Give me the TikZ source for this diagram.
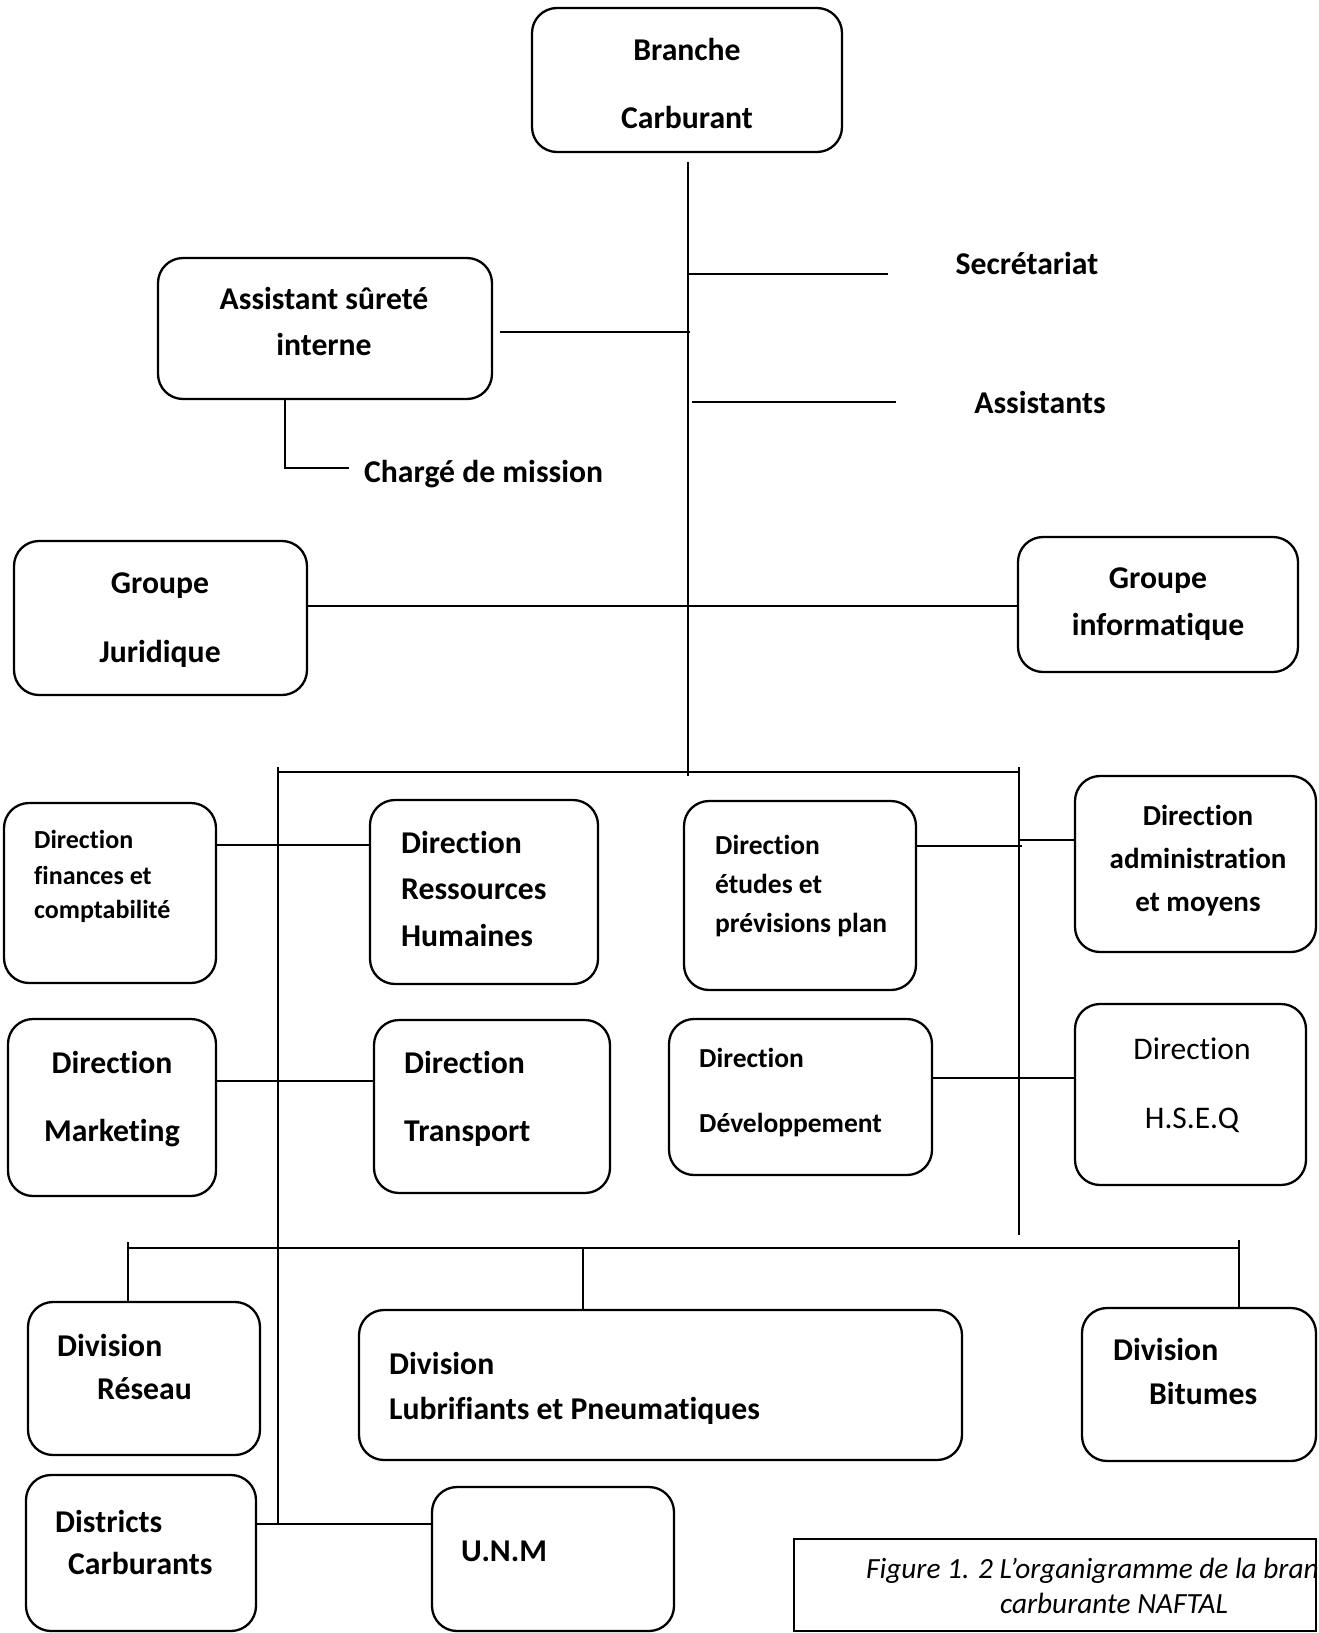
\documentclass[tikz,border=0pt]{standalone}
\usepackage{fontspec}
\setmainfont{Carlito}[RawFeature={-liga}]
\begin{document}
\begin{tikzpicture}[x=1pt,y=-1pt,
  box/.style={draw, line width=2.3pt, rounded corners=25pt, inner sep=0pt, outer sep=0pt},
  capbox/.style={draw, line width=2.2pt, inner sep=0pt, outer sep=0pt},
  conn/.style={line width=1.3pt},
  lbl/.style={inner sep=0pt, font=\bfseries\fontsize{31.7}{38}\selectfont},
  lbls/.style={inner sep=0pt, font=\bfseries\fontsize{26}{31}\selectfont},
  lblm/.style={inner sep=0pt, font=\bfseries\fontsize{27.5}{33}\selectfont},
  lbla/.style={inner sep=0pt, font=\bfseries\fontsize{29}{35}\selectfont},
  lblr/.style={inner sep=0pt, font=\fontsize{31.5}{38}\selectfont},
  lblc/.style={inner sep=0pt, font=\itshape\fontsize{29.3}{35}\selectfont},
]
\useasboundingbox[fill=white] (0,0) rectangle (1318,1633);
\newcommand\rbox[6][box]{\node[#1, minimum width={(#5-#3)*1pt}, minimum height={(#6-#4)*1pt}] (#2) at ({(#3+#5)/2},{(#4+#6)/2}) {};}

% boxes
\rbox{branche}{532}{8}{842}{152}
\rbox{asst}{158}{258}{492}{399}
\rbox{jur}{14}{541}{307}{695}
\rbox{info}{1018}{537}{1298}{672}
\rbox{fin}{4}{803}{216}{983}
\rbox{rh}{370}{800}{598}{984}
\rbox{etu}{684}{801}{916}{990}
\rbox{adm}{1075}{776}{1316}{952}
\rbox{mkt}{8}{1019}{216}{1196}
\rbox{trn}{374}{1020}{610}{1193}
\rbox{dev}{669}{1019}{932}{1175}
\rbox{hseq}{1075}{1004}{1306}{1185}
\rbox{res}{28}{1302}{260}{1455}
\rbox{lub}{359}{1310}{962}{1460}
\rbox{bit}{1082}{1308}{1316}{1461}
\rbox{dis}{26}{1475}{256}{1631}
\rbox{unm}{432}{1487}{674}{1631}
\rbox[capbox]{cap}{794}{1539}{1316}{1631}

% texts
\node[lbl, anchor=base] (tbr1) at (687,60) {Branche};
\node[lbl, anchor=base] (tbr2) at (687,128) {Carburant};
\node[lbl, anchor=base] (tsec) at (1027,274) {Secrétariat};
\node[lbl, anchor=base] (tass) at (1040,413) {Assistants};
\node[lbl, anchor=base] (tas1) at (324,309) {Assistant sûreté};
\node[lbl, anchor=base] (tas2) at (324,355) {interne};
\node[lbl, anchor=base west] (tcm) at (364,482) {Chargé de mission};
\node[lbl, anchor=base] (tj1) at (160,593) {Groupe};
\node[lbl, anchor=base] (tj2) at (160,662) {Juridique};
\node[lbl, anchor=base] (ti1) at (1158,588) {Groupe};
\node[lbl, anchor=base] (ti2) at (1158,635) {informatique};
\node[lbls, anchor=base west] (tf1) at (34,848) {Direction};
\node[lbls, anchor=base west] (tf2) at (34,884) {finances et};
\node[lbls, anchor=base west] (tf3) at (34,918) {comptabilité};
\node[lbl, anchor=base west] (tr1) at (401,853) {Direction};
\node[lbl, anchor=base west] (tr2) at (401,899) {Ressources};
\node[lbl, anchor=base west] (tr3) at (401,946) {Humaines};
\node[lblm, anchor=base west] (te1) at (715,854) {Direction};
\node[lblm, anchor=base west] (te2) at (715,893) {études et};
\node[lblm, anchor=base west] (te3) at (715,932) {prévisions plan};
\node[lbla, anchor=base] (ta1) at (1198,825) {Direction};
\node[lbla, anchor=base] (ta2) at (1198,868) {administration};
\node[lbla, anchor=base] (ta3) at (1198,911) {et moyens};
\node[lbl, anchor=base] (tm1) at (112,1073) {Direction};
\node[lbl, anchor=base] (tm2) at (112,1141) {Marketing};
\node[lbl, anchor=base west] (tt1) at (404,1073) {Direction};
\node[lbl, anchor=base west] (tt2) at (404,1141) {Transport};
\node[lblm, anchor=base west] (td1) at (699,1067) {Direction};
\node[lblm, anchor=base west] (td2) at (699,1132) {Développement};
\node[lblr, anchor=base] (th1) at (1192,1059) {Direction};
\node[lblr, anchor=base] (th2) at (1192,1128) {H.S.E.Q};
\node[lbl, anchor=base west] (tre1) at (57,1356) {Division};
\node[lbl, anchor=base west] (tre2) at (97,1399) {Réseau};
\node[lbl, anchor=base west] (tl1) at (389,1374) {Division};
\node[lbl, anchor=base west] (tl2) at (389,1419) {Lubrifiants et Pneumatiques};
\node[lbl, anchor=base west] (tb1) at (1113,1360) {Division};
\node[lbl, anchor=base west] (tb2) at (1149,1404) {Bitumes};
\node[lbl, anchor=base west] (tdi1) at (55,1532) {Districts};
\node[lbl, anchor=base west] (tdi2) at (68,1574) {Carburants};
\node[lbl, anchor=base west] (tu) at (461,1561) {U.N.M};
\node[lblc, anchor=base west] (tc1) at (866,1578) {Figure 1. 2 L’organigramme de la bran};
\node[lblc, anchor=base] (tc2) at (1114,1613) {carburante NAFTAL};

% helper coordinates
\coordinate (vtop) at (688,162);
\coordinate (vbot) at (688,776);
\coordinate (secEnd) at (888,274);
\coordinate (asEnd) at (896,402);
\coordinate (asStart) at (500,332);
\coordinate (cmCorner) at (285,468);
\coordinate (cmEnd) at (349,468);
\coordinate (gy) at (0,606);
\coordinate (hL) at (278,772);
\coordinate (hR) at (1019,772);
\coordinate (lvTop) at (278,767);
\coordinate (du) at (278,1524);
\coordinate (rvTop) at (1019,767);
\coordinate (rvBot) at (1019,1235);
\coordinate (fy) at (0,845);
\coordinate (my) at (0,1081);
\coordinate (ey) at (1022,846);
\coordinate (ay) at (1019,840);
\coordinate (dy) at (0,1078);
\coordinate (bL) at (128,1248);
\coordinate (bR) at (1239,1248);
\coordinate (bLt) at (128,1242);
\coordinate (bRt) at (1239,1240);
\coordinate (bM) at (583,1248);

% connectors
\draw[conn] (vtop) -- (vbot);
\draw[conn] (vtop |- secEnd) -- (secEnd);
\draw[conn] ([xshift=4]vtop |- asEnd) -- (asEnd);
\draw[conn] (asStart) -- ([xshift=2]vtop |- asStart);
\draw[conn] (asst.south -| cmCorner) -- (cmCorner) -- (cmEnd);
\draw[conn] (jur.east |- gy) -- (info.west |- gy);
\draw[conn] (hL) -- (hR);
\draw[conn] (lvTop) -- (du);
\draw[conn] (rvTop) -- (rvBot);
\draw[conn] (fin.east |- fy) -- (rh.west |- fy);
\draw[conn] (mkt.east |- my) -- (trn.west |- my);
\draw[conn] (etu.east |- ey) -- (ey);
\draw[conn] (ay) -- (adm.west |- ay);
\draw[conn] (dev.east |- dy) -- (hseq.west |- dy);
\draw[conn] (dis.east |- du) -- (unm.west |- du);
\draw[conn] (bL) -- (bR);
\draw[conn] (bLt) -- (res.north -| bLt);
\draw[conn] (bM) -- (lub.north -| bM);
\draw[conn] (bRt) -- (bit.north -| bRt);
\end{tikzpicture}
\end{document}
